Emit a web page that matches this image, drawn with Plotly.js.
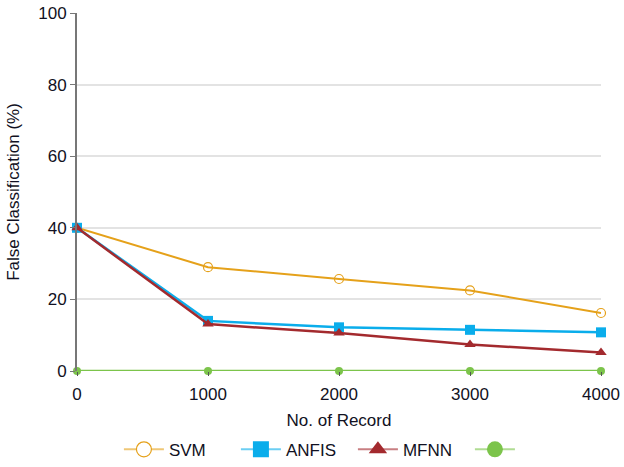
<!DOCTYPE html>
<html>
<head>
<meta charset="utf-8">
<script src="https://cdn.plot.ly/plotly-3.0.1.min.js"></script>
<style>html,body{margin:0;padding:0;background:#fff}#chart{width:624px;height:467px}</style>
</head>
<body>
<div id="chart"></div>
<script>
const records = [0, 1000, 2000, 3000, 4000];
const svm = [40, 29, 25.7, 22.5, 16.2];
const anfis = [40, 14, 12.2, 11.5, 10.8];
const mfnn = [40, 13.1, 10.6, 7.4, 5.2];
const fourth = [0, 0, 0, 0, 0];
const names = ["SVM", "ANFIS", "MFNN", " "];
const colors = ["#E5A11A", "#0AADEB", "#A32A2E", "#7CC44B"];
const legendLine = ["rgba(229,161,26,0.6)", "rgba(10,173,235,0.6)", "rgba(163,42,46,0.6)", "rgba(124,196,75,0.6)"];

const traces = [
  {x: records, y: svm, name: names[0], mode: "lines+markers", cliponaxis: false, showlegend: false,
   line: {color: colors[0], width: 2},
   marker: {symbol: "circle-open", size: 9, color: colors[0], line: {width: 1.2}}},
  {x: records, y: anfis, name: names[1], mode: "lines+markers", cliponaxis: false, showlegend: false,
   line: {color: colors[1], width: 2.5},
   marker: {symbol: "square", size: 10, color: colors[1]}},
  {x: records, y: mfnn, name: names[2], mode: "lines+markers", cliponaxis: false, showlegend: false,
   line: {color: colors[2], width: 2.5},
   marker: {symbol: "triangle-up", size: 10, color: colors[2]}},
  {x: records, y: fourth, name: names[3], mode: "lines+markers", cliponaxis: false, showlegend: false,
   line: {color: colors[3], width: 2.5},
   marker: {symbol: "circle", size: 8, color: colors[3]}}
];
// legend-only entries with larger symbols
const legSymbols = ["circle", "square", "triangle-up", "circle"];
const legSizes = [15, 16, 16, 16];
for (let i = 0; i < 4; i++) {
  traces.push({x: [null], y: [null], name: names[i], mode: "lines+markers", showlegend: true,
    line: {color: legendLine[i], width: 2},
    marker: {symbol: legSymbols[i], size: legSizes[i], color: i === 0 ? "#ffffff" : colors[i],
             line: i === 0 ? {color: colors[0], width: 1.2} : {width: 0}}});
}

const font = {family: "Liberation Sans, Arial, sans-serif", size: 17, color: "#111122"};
const layout = {
  width: 624, height: 467,
  margin: {l: 77, r: 23, t: 13, b: 96, autoexpand: false},
  paper_bgcolor: "#fff", plot_bgcolor: "#fff",
  font: font,
  showlegend: true,
  legend: {orientation: "h", x: 0.08, xanchor: "left", y: -0.22, yanchor: "middle",
           font: {family: font.family, size: 17, color: font.color}, itemwidth: 40,
           entrywidth: 62, entrywidthmode: "pixels"},
  xaxis: {range: [0, 4000], tickvals: records, ticktext: records.map(String),
          showgrid: false, zeroline: false, showline: false,
          ticks: "outside", ticklen: 4, tickcolor: "#555", ticklabelstandoff: 4,
          title: {text: "No. of Record", font: font, standoff: 10}},
  yaxis: {range: [0, 100], dtick: 20, showgrid: true, gridcolor: "#e3e3e3", gridwidth: 2,
          zeroline: false, showline: true, linecolor: "#777", linewidth: 2,
          ticks: "outside", ticklen: 5, tickcolor: "#777",
          title: {text: "False Classification (%)", font: font, standoff: 14}}
};
Plotly.newPlot("chart", traces, layout, {displayModeBar: false, staticPlot: true});
</script>
</body>
</html>
